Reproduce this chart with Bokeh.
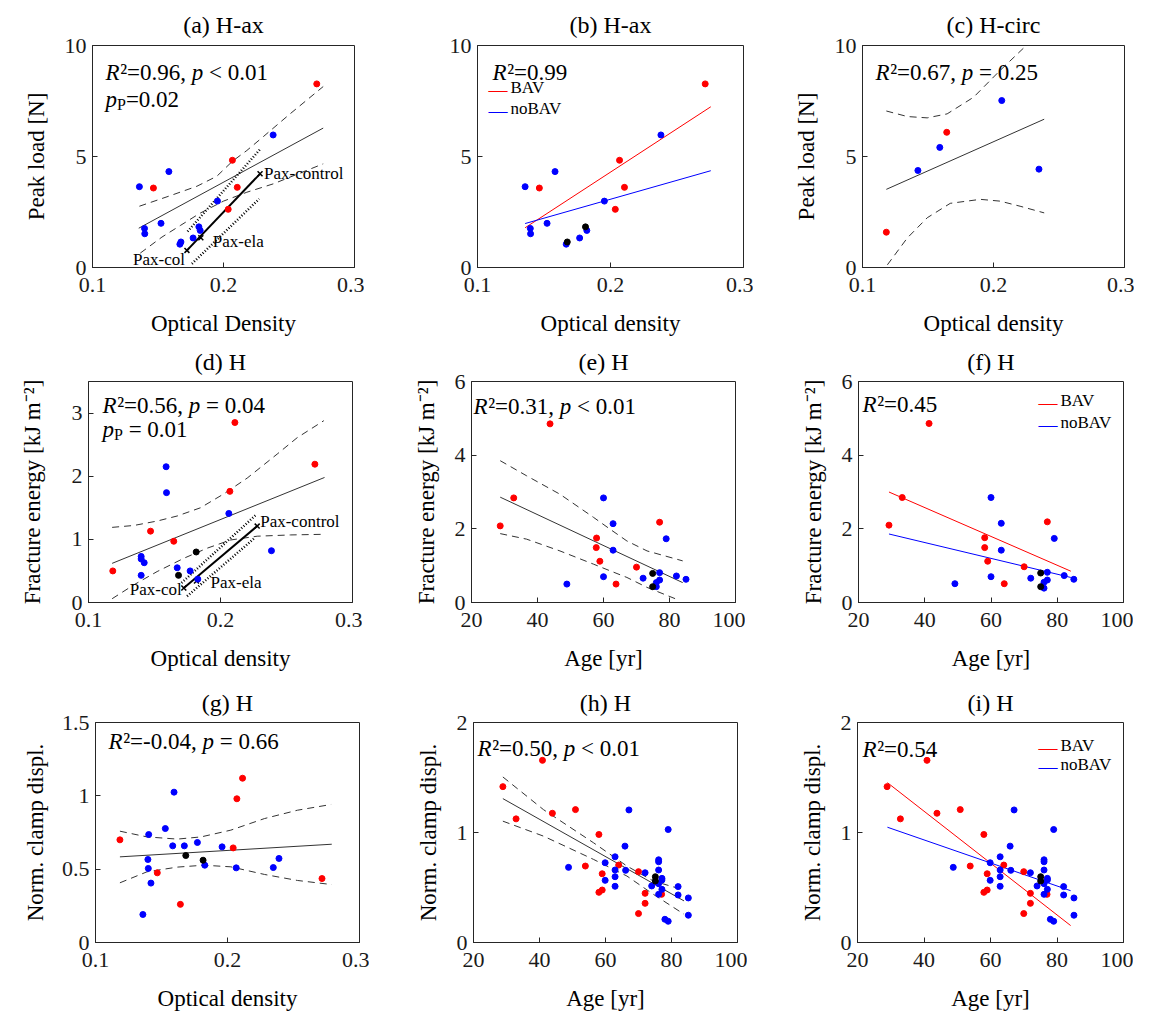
from bokeh.plotting import figure
from bokeh.models import Label, FixedTicker, Range1d
from bokeh.layouts import column, row
from bokeh.embed import file_html
from bokeh.resources import INLINE

FONT = "Liberation Serif"
RED, BLUE, BLACK = "#ff0000", "#0000ff", "#000000"
AX = "#262626"
NB = "\u00a0"

# ---------------- data ----------------
# (a)/(b) peak load vs optical density, H-ax
ab_red_x = [0.2712, 0.1465, 0.2068, 0.2105, 0.2036]
ab_red_y = [8.27, 3.58, 4.83, 3.61, 2.62]
ab_blue_x = [0.1358, 0.1583, 0.2379, 0.1397, 0.1399, 0.1523, 0.1954, 0.1822, 0.1768, 0.1667]
ab_blue_y = [3.64, 4.32, 5.97, 1.76, 1.52, 1.99, 2.99, 1.67, 1.33, 1.05]
ab_black_x = [0.1675, 0.1812]
ab_black_y = [1.15, 1.83]
a_fit_x = [0.1353, 0.2761]
a_fit_y = [1.77, 6.28]
a_up_x = [0.1358, 0.1581, 0.1797, 0.1949, 0.2069, 0.2178, 0.2305, 0.2508, 0.2761]
a_up_y = [2.76, 3.21, 3.66, 4.11, 4.79, 5.27, 5.90, 6.92, 8.15]
a_lo_x = [0.1365, 0.153, 0.167, 0.1822, 0.2, 0.2178, 0.2381, 0.2558, 0.2761]
a_lo_y = [0.65, 1.37, 1.89, 2.45, 2.99, 3.39, 3.77, 4.19, 4.67]
a_pax_x = [0.1721, 0.1827, 0.2279]
a_pax_y = [0.77, 1.34, 4.22]
a_dot1_x = [0.1726, 0.2279]
a_dot1_y = [1.62, 5.32]
a_dot2_x = [0.1759, 0.2272]
a_dot2_y = [0.17, 3.09]
pax_labels = ["Pax-col", "Pax-ela", "Pax-control"]
b_fit_x = [0.1358, 0.2754]
b_red_fit_y = [1.79, 7.24]
b_blue_fit_y = [1.98, 4.36]

# (c) H-circ
c_red_x = [0.1182, 0.1643]
c_red_y = [1.59, 6.09]
c_blue_x = [0.1423, 0.1590, 0.2063, 0.2347]
c_blue_y = [4.37, 5.41, 7.52, 4.43]
c_fit_x = [0.1182, 0.2387]
c_fit_y = [3.52, 6.68]
c_up_x = [0.1182, 0.1342, 0.1494, 0.1646, 0.1848, 0.2051, 0.2266]
c_up_y = [7.05, 6.80, 6.74, 6.92, 7.67, 8.88, 10.09]
c_lo_x = [0.1190, 0.1342, 0.1494, 0.1670, 0.1899, 0.2050, 0.2203, 0.2387]
c_lo_y = [0.12, 1.33, 2.24, 2.89, 3.07, 2.99, 2.76, 2.46]

# (d) fracture energy vs optical density
d_red_x = [0.2109, 0.2715, 0.2071, 0.1470, 0.1646, 0.1184]
d_red_y = [2.85, 2.19, 1.76, 1.13, 0.97, 0.50]
d_blue_x = [0.1588, 0.1591, 0.2063, 0.2386, 0.1399, 0.1399, 0.1422, 0.1399, 0.1672, 0.1770, 0.1828]
d_blue_y = [2.15, 1.74, 1.41, 0.82, 0.73, 0.69, 0.63, 0.43, 0.55, 0.50, 0.37]
d_black_x = [0.1816, 0.1682]
d_black_y = [0.80, 0.43]
d_fit_x = [0.1179, 0.2788]
d_fit_y = [0.62, 1.98]
d_up_x = [0.1179, 0.1344, 0.1520, 0.1672, 0.1848, 0.2025, 0.2202, 0.2429, 0.2581, 0.2783]
d_up_y = [1.19, 1.22, 1.29, 1.37, 1.50, 1.72, 1.97, 2.35, 2.61, 2.88]
d_lo_x = [0.1179, 0.1344, 0.1520, 0.1722, 0.1899, 0.2076, 0.2278, 0.2530, 0.2783]
d_lo_y = [0.06, 0.28, 0.49, 0.70, 0.86, 0.99, 1.05, 1.07, 1.08]
d_pax_x = [0.1722, 0.1818, 0.2278]
d_pax_y = [0.23, 0.34, 1.21]
d_dot1_x = [0.1705, 0.2265]
d_dot1_y = [0.31, 1.38]
d_dot2_x = [0.1747, 0.2258]
d_dot2_y = [0.10, 1.02]

# (e) fracture energy vs age
e_red_x = [43.8, 32.8, 28.7, 57.9, 57.8, 58.9, 70.0, 77.0, 63.8]
e_red_y = [4.85, 2.84, 2.08, 1.75, 1.49, 1.12, 0.96, 2.18, 0.50]
e_blue_x = [60.0, 62.9, 62.9, 79.0, 60.0, 48.9, 72.0, 77.0, 77.0, 76.0, 76.0, 82.1, 85.0]
e_blue_y = [2.84, 2.14, 1.42, 1.73, 0.70, 0.50, 0.66, 0.81, 0.61, 0.54, 0.43, 0.72, 0.63]
e_black_x = [74.9, 74.9]
e_black_y = [0.79, 0.43]
e_fit_x = [28.7, 84.0]
e_fit_y = [2.86, 0.54]
e_up_x = [28.7, 36.7, 46.8, 57.0, 62.0, 67.1, 73.2, 84.0]
e_up_y = [3.85, 3.44, 2.94, 2.31, 1.99, 1.67, 1.40, 1.13]
e_lo_x = [28.7, 36.7, 46.8, 57.0, 62.0, 67.1, 73.2, 82.1]
e_lo_y = [1.87, 1.72, 1.40, 1.04, 0.86, 0.68, 0.41, 0.09]

# (f)
f_red_x = [41.3, 33.2, 29.2, 58.1, 58.1, 59.0, 70.0, 77.0, 64.0]
f_red_y = [4.86, 2.85, 2.10, 1.76, 1.49, 1.12, 0.97, 2.19, 0.51]
f_blue_x = [60.0, 63.1, 63.1, 79.1, 60.0, 49.1, 72.0, 77.0, 77.0, 76.0, 76.0, 82.1, 85.0]
f_blue_y = [2.85, 2.15, 1.42, 1.74, 0.70, 0.51, 0.66, 0.82, 0.61, 0.55, 0.39, 0.73, 0.63]
f_black_x = [75.0, 75.0]
f_black_y = [0.80, 0.43]
f_fit_x = [29.2, 84.1]
f_red_fit_y = [3.00, 0.85]
f_blue_fit_y = [1.86, 0.68]

# (g) clamp displacement vs optical density
g_red_x = [0.1185, 0.2114, 0.2071, 0.2043, 0.1468, 0.1643, 0.2716]
g_red_y = [0.70, 1.12, 0.98, 0.645, 0.475, 0.26, 0.436]
g_blue_x = [0.1595, 0.1529, 0.1403, 0.1585, 0.1673, 0.1772, 0.1959, 0.1397, 0.1400, 0.1420,
            0.1828, 0.2066, 0.2347, 0.2390, 0.1359]
g_blue_y = [1.025, 0.777, 0.736, 0.659, 0.659, 0.682, 0.652, 0.566, 0.505, 0.405,
            0.527, 0.509, 0.511, 0.573, 0.191]
g_black_x = [0.1684, 0.1815]
g_black_y = [0.593, 0.561]
g_fit_x = [0.1185, 0.2790]
g_fit_y = [0.584, 0.670]
g_up_x = [0.1185, 0.139, 0.162, 0.180, 0.2025, 0.228, 0.253, 0.2785]
g_up_y = [0.759, 0.720, 0.705, 0.720, 0.766, 0.845, 0.902, 0.941]
g_lo_x = [0.1185, 0.139, 0.162, 0.182, 0.2025, 0.228, 0.253, 0.279]
g_lo_y = [0.407, 0.482, 0.514, 0.527, 0.516, 0.464, 0.423, 0.395]

# (h)/(i) clamp displacement vs age
hi_red_x = [40.9, 28.9, 32.9, 43.9, 50.9, 58.0, 53.9, 59.0, 58.0, 59.0, 64.0, 70.0, 72.0, 72.0, 70.0, 77.0]
hi_red_y = [1.656, 1.417, 1.124, 1.175, 1.208, 0.982, 0.695, 0.625, 0.456, 0.477, 0.704, 0.644,
            0.447, 0.356, 0.263, 0.438]
hi_blue_x = [67.1, 79.0, 65.9, 62.9, 59.9, 62.9, 66.1, 62.9, 59.9, 62.9, 48.8, 72.0, 74.0, 76.1,
             76.1, 76.1, 77.1, 77.1, 76.1, 77.1, 76.1, 82.0, 82.0, 85.1, 85.1, 78.0, 79.0]
hi_blue_y = [1.205, 1.027, 0.876, 0.779, 0.725, 0.659, 0.656, 0.598, 0.565, 0.511, 0.683, 0.634,
             0.514, 0.752, 0.734, 0.659, 0.583, 0.568, 0.535, 0.483, 0.438, 0.508, 0.432, 0.405,
             0.248, 0.211, 0.193]
hi_black_x = [75.1, 75.1]
hi_black_y = [0.598, 0.559]
h_fit_x = [28.9, 83.8]
h_fit_y = [1.308, 0.378]
h_up_x = [28.9, 41.2, 56.4, 66.5, 74.5, 83.8]
h_up_y = [1.505, 1.208, 0.906, 0.695, 0.559, 0.477]
h_lo_x = [28.9, 41.2, 56.4, 66.5, 74.5, 83.8]
h_lo_y = [1.103, 0.967, 0.755, 0.604, 0.438, 0.257]
i_fit_x = [29.0, 84.1]
i_red_fit_y = [1.453, 0.154]
i_blue_fit_y = [1.048, 0.471]

# ticks
od_ticks = [0.1, 0.2, 0.3]
od_labels = ["0.1", "0.2", "0.3"]
age_ticks = [20, 40, 60, 80, 100]
age_labels = ["20", "40", "60", "80", "100"]
pl_ticks = [0, 5, 10]
pl_labels = ["0", "5", "10"]
fe1_ticks = [0, 1, 2, 3]
fe1_labels = ["0", "1", "2", "3"]
fe2_ticks = [0, 2, 4, 6]
fe2_labels = ["0", "2", "4", "6"]
cd1_ticks = [0, 0.5, 1, 1.5]
cd1_labels = ["0", "0.5", "1", "1.5"]
cd2_ticks = [0, 1, 2]
cd2_labels = ["0", "1", "2"]

legend_labels = ["BAV", "noBAV"]

# ---------------- helpers ----------------
FS = "22px"
AFS = 23


def make_fig(title, xr, yr, xt, xl, yt, yl, xlabel, ylabel, fw, fh, bl, bt, bb, ystand=13, tstand=14):
    p = figure(frame_width=fw, frame_height=fh, x_range=Range1d(*xr), y_range=Range1d(*yr),
               min_border_left=bl, min_border_right=10, min_border_top=bt, min_border_bottom=bb,
               toolbar_location=None, output_backend="svg", title=title)
    p.title.align = "center"
    p.title.text_font = FONT
    p.title.text_font_size = "24px"
    p.title.text_font_style = "normal"
    p.title.text_color = "#000000"
    p.title.standoff = tstand
    p.xaxis.ticker = FixedTicker(ticks=xt)
    p.xaxis.major_label_overrides = dict(zip(xt, xl))
    p.yaxis.ticker = FixedTicker(ticks=yt)
    p.yaxis.major_label_overrides = dict(zip(yt, yl))
    for ax in (p.xaxis[0], p.yaxis[0]):
        ax.major_tick_in = 5
        ax.major_tick_out = 0
        ax.minor_tick_line_color = None
        ax.axis_line_color = AX
        ax.major_tick_line_color = AX
        ax.major_label_text_font = FONT
        ax.major_label_text_font_size = FS
        ax.major_label_text_color = "#1a1a1a"
        ax.axis_label_text_font = FONT
        ax.axis_label_text_font_size = "23px"
        ax.axis_label_text_font_style = "normal"
        ax.axis_label_text_color = "#000000"
    p.yaxis.major_label_standoff = 6
    p.xaxis.major_label_standoff = 10
    p.xaxis.axis_label = xlabel
    p.xaxis.axis_label_standoff = 16
    if ylabel:
        p.yaxis.axis_label = ylabel
        p.yaxis.axis_label_standoff = ystand
    p.grid.visible = False
    p.outline_line_color = AX
    p.outline_line_alpha = 1
    p.background_fill_color = "#ffffff"
    return p


CW = {' ': 0.25, NB: 0.25, '=': 0.564, '<': 0.564, ',': 0.25, '.': 0.25, '-': 0.333, '\u00b2': 0.3}


def tw(s, size, italic=False):
    w = 0.0
    for ch in s:
        if ch in CW:
            w += CW[ch]
        elif ch.isdigit():
            w += 0.5
        elif ch == 'R':
            w += 0.64 if italic else 0.667
        elif ch == 'P':
            w += 0.556
        else:
            w += 0.5
    return w * size


def rich(p, dx, dy, segs, size=AFS):
    x0 = p.x_range.start
    y0 = p.y_range.end
    off = dx
    for txt, st in segs:
        fs = size
        yo = -dy
        style = "normal"
        if st == "i":
            style = "italic"
        if st == "sub":
            fs = int(size * 0.7)
            yo = -dy - 5
        p.add_layout(Label(x=x0, y=y0, x_offset=off, y_offset=yo, text=txt,
                           text_font=FONT, text_font_size=f"{fs}px", text_font_style=style,
                           text_baseline="alphabetic", text_align="left", text_color="#000000"))
        off += tw(txt, fs, style == "italic")


def r2p(val, pv, rel):
    segs = [("R", "i"), ("\u00b2=" + val, "n")]
    if pv is not None:
        segs += [("," + NB, "n"), ("p", "i"), (NB + rel + NB + pv, "n")]
    return segs


def scat(p, xs, ys, col):
    p.scatter(xs, ys, size=6, color=col, line_color=col)


def band(p, fx, fy, ux, uy, lx, ly):
    p.line(fx, fy, color="#333333", line_width=1)
    p.line(ux, uy, color="#333333", line_width=1, line_dash="7 5")
    p.line(lx, ly, color="#333333", line_width=1, line_dash="7 5")


def pax(p, px, py, d1x, d1y, d2x, d2y, offs):
    p.line(d1x, d1y, color="#000000", line_width=2.5, line_dash="1 2")
    p.line(d2x, d2y, color="#000000", line_width=2.5, line_dash="1 2")
    p.line([px[0], px[2]], [py[0], py[2]], color="#000000", line_width=2)
    p.scatter(px, py, marker="x", size=7, line_width=1.5, color="#000000")
    for i, lab in enumerate(pax_labels):
        xo, yo, al, bl = offs[i]
        p.add_layout(Label(x=px[i], y=py[i], x_offset=xo, y_offset=yo, text=lab, text_font=FONT,
                           text_font_size="17px", text_align=al, text_baseline=bl, text_color="#000000"))


def legend(p, dx, dys, colors):
    # legend in the frame's top-left corner coordinates: coloured key dash + label
    x0 = p.x_range.start
    y0 = p.y_range.end
    for lab, dy, col in zip(legend_labels, dys, colors):
        p.add_layout(Label(x=x0, y=y0, x_offset=dx, y_offset=-dy - 2, text="\u2014", text_font=FONT,
                           text_font_size="19px", text_baseline="middle", text_align="left",
                           text_color=col))
        p.add_layout(Label(x=x0, y=y0, x_offset=dx + 22, y_offset=-dy, text=lab, text_font=FONT,
                           text_font_size="17px", text_baseline="middle", text_align="left",
                           text_color="#000000"))


# ---------------- row 1 ----------------
OD = (0.1, 0.3)
pa = make_fig("(a) H-ax", OD, (0, 10), od_ticks, od_labels, pl_ticks, pl_labels,
              "Optical Density", "Peak load [N]", 262, 222, 92, 45, 70, tstand=16)
band(pa, a_fit_x, a_fit_y, a_up_x, a_up_y, a_lo_x, a_lo_y)
pax(pa, a_pax_x, a_pax_y, a_dot1_x, a_dot1_y, a_dot2_x, a_dot2_y,
    [(-2, 0, "right", "top"), (12, -4, "left", "middle"), (4, 0, "left", "middle")])
scat(pa, ab_red_x, ab_red_y, RED)
scat(pa, ab_blue_x, ab_blue_y, BLUE)
scat(pa, ab_black_x, ab_black_y, BLUE)
rich(pa, 13, 27, r2p("0.96", "0.01", "<"))
rich(pa, 13, 54, [("p", "i"), ("P", "sub"), ("=0.02", "n")])

pb = make_fig("(b) H-ax", OD, (0, 10), od_ticks, od_labels, pl_ticks, pl_labels,
              "Optical density", None, 266, 222, 113, 45, 70, tstand=16)
pb.line(b_fit_x, b_red_fit_y, color=RED, line_width=1)
pb.line(b_fit_x, b_blue_fit_y, color=BLUE, line_width=1)
scat(pb, ab_red_x, ab_red_y, RED)
scat(pb, ab_blue_x, ab_blue_y, BLUE)
scat(pb, ab_black_x, ab_black_y, BLACK)
rich(pb, 15, 27, r2p("0.99", None, None))
legend(pb, 11, [42, 63], [RED, BLUE])

pc = make_fig("(c) H-circ", OD, (0, 10), od_ticks, od_labels, pl_ticks, pl_labels,
              "Optical density", "Peak load [N]", 262, 222, 109, 45, 70, tstand=16)
band(pc, c_fit_x, c_fit_y, c_up_x, c_up_y, c_lo_x, c_lo_y)
scat(pc, c_red_x, c_red_y, RED)
scat(pc, c_blue_x, c_blue_y, BLUE)
rich(pc, 13, 27, r2p("0.67", "0.25", "="))

# ---------------- row 2 ----------------
FE = "Fracture energy [kJ m\u207b\u00b2]"
pd = make_fig("(d) H", OD, (0, 3.5), od_ticks, od_labels, fe1_ticks, fe1_labels,
              "Optical density", FE, 264, 221, 88, 43, 77, ystand=24)
band(pd, d_fit_x, d_fit_y, d_up_x, d_up_y, d_lo_x, d_lo_y)
pax(pd, d_pax_x, d_pax_y, d_dot1_x, d_dot1_y, d_dot2_x, d_dot2_y,
    [(-2, -2, "right", "middle"), (14, -1, "left", "middle"), (3, 5, "left", "middle")])
scat(pd, d_red_x, d_red_y, RED)
scat(pd, d_blue_x, d_blue_y, BLUE)
scat(pd, d_black_x, d_black_y, BLACK)
rich(pd, 14, 24, r2p("0.56", "0.04", "="))
rich(pd, 14, 48, [("p", "i"), ("P", "sub"), (NB + "=" + NB + "0.01", "n")])

AGE = (20, 100)
pe = make_fig("(e) H", AGE, (0, 6), age_ticks, age_labels, fe2_ticks, fe2_labels,
              "Age [yr]", FE, 264, 221, 109, 43, 77)
band(pe, e_fit_x, e_fit_y, e_up_x, e_up_y, e_lo_x, e_lo_y)
scat(pe, e_red_x, e_red_y, RED)
scat(pe, e_blue_x, e_blue_y, BLUE)
scat(pe, e_black_x, e_black_y, BLACK)
rich(pe, 2, 25, r2p("0.31", "0.01", "<"))

pf = make_fig("(f) H", AGE, (0, 6), age_ticks, age_labels, fe2_ticks, fe2_labels,
              "Age [yr]", FE, 265, 221, 113, 43, 77)
pf.line(f_fit_x, f_red_fit_y, color=RED, line_width=1)
pf.line(f_fit_x, f_blue_fit_y, color=BLUE, line_width=1)
scat(pf, f_red_x, f_red_y, RED)
scat(pf, f_blue_x, f_blue_y, BLUE)
scat(pf, f_black_x, f_black_y, BLACK)
rich(pf, 4, 23, r2p("0.45", None, None))
legend(pf, 180, [19, 41], [RED, BLUE])

# ---------------- row 3 ----------------
CD = "Norm. clamp displ."
pg = make_fig("(g) H", OD, (0, 1.5), od_ticks, od_labels, cd1_ticks, cd1_labels,
              "Optical density", CD, 264, 220, 95, 43, 64, ystand=11)
band(pg, g_fit_x, g_fit_y, g_up_x, g_up_y, g_lo_x, g_lo_y)
scat(pg, g_red_x, g_red_y, RED)
scat(pg, g_blue_x, g_blue_y, BLUE)
scat(pg, g_black_x, g_black_y, BLACK)
rich(pg, 13, 19, r2p("-0.04", "0.66", "="))

ph = make_fig("(h) H", AGE, (0, 2), age_ticks, age_labels, cd2_ticks, cd2_labels,
              "Age [yr]", CD, 264, 220, 104, 43, 64)
band(ph, h_fit_x, h_fit_y, h_up_x, h_up_y, h_lo_x, h_lo_y)
scat(ph, hi_red_x, hi_red_y, RED)
scat(ph, hi_blue_x, hi_blue_y, BLUE)
scat(ph, hi_black_x, hi_black_y, BLACK)
rich(ph, 4, 26, r2p("0.50", "0.01", "<"))

pi = make_fig("(i) H", AGE, (0, 2), age_ticks, age_labels, cd2_ticks, cd2_labels,
              "Age [yr]", CD, 266, 220, 110, 43, 64)
pi.line(i_fit_x, i_red_fit_y, color=RED, line_width=1)
pi.line(i_fit_x, i_blue_fit_y, color=BLUE, line_width=1)
scat(pi, hi_red_x, hi_red_y, RED)
scat(pi, hi_blue_x, hi_blue_y, BLUE)
scat(pi, hi_black_x, hi_black_y, BLACK)
rich(pi, 5, 27, r2p("0.54", None, None))
legend(pi, 181, [23, 42], [RED, BLUE])

layout = column(row(pa, pb, pc), row(pd, pe, pf), row(pg, ph, pi))
open("out.html", "w").write(file_html(layout, INLINE))
